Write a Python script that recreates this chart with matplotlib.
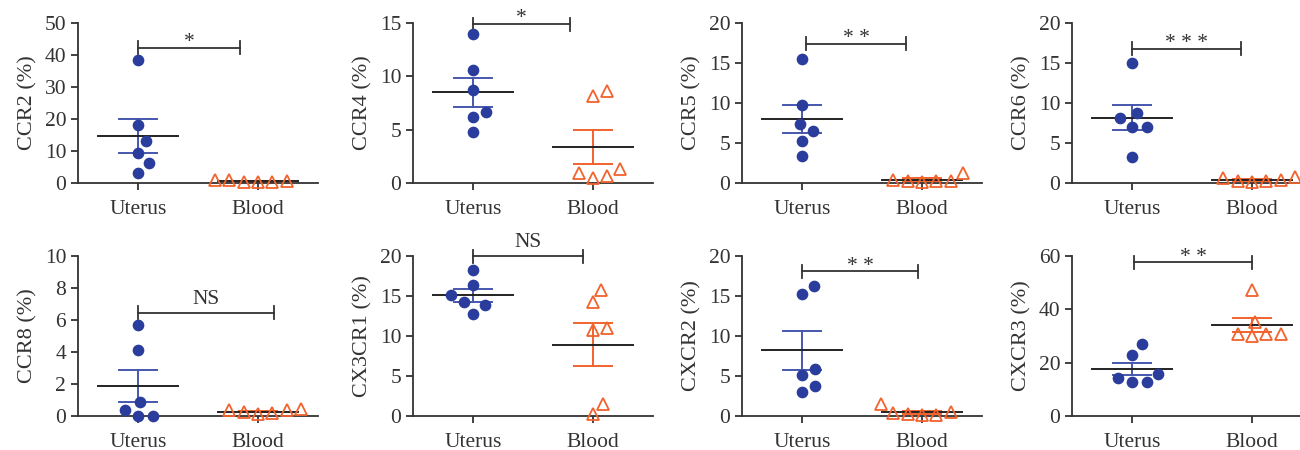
import numpy as np
import matplotlib
matplotlib.use("Agg")
import matplotlib.pyplot as plt

plt.rcParams['font.family'] = ['Liberation Serif', 'DejaVu Serif']

groups = ["Uterus", "Blood"]
receptors = ["CCR2", "CCR4", "CCR5", "CCR6", "CCR8", "CX3CR1", "CXCR2", "CXCR3"]
y_max = [50, 15, 20, 20, 10, 20, 20, 60]
y_step = [10, 5, 5, 5, 2, 5, 5, 20]

# percent positive cells, six donors per group
uterus = [
    [38.5, 18.0, 13.0, 9.3, 6.3, 3.2],
    [14.0, 10.6, 8.7, 6.7, 6.2, 4.8],
    [15.5, 9.8, 7.4, 6.5, 5.25, 3.4],
    [15.0, 8.7, 8.1, 7.0, 7.0, 3.2],
    [5.7, 4.15, 0.9, 0.35, 0.0, 0.0],
    [18.3, 16.4, 15.1, 14.2, 13.9, 12.8],
    [16.3, 15.2, 5.9, 5.1, 3.8, 3.0],
    [26.9, 23.0, 15.9, 14.4, 12.75, 12.75],
]
blood = [
    [0.8, 0.3, 0.3, 0.2, 0.6, 0.8],
    [8.6, 8.2, 0.9, 0.5, 0.7, 1.3],
    [0.4, 0.2, 0.1, 0.2, 0.2, 1.3],
    [0.4, 0.3, 0.1, 0.2, 0.6, 0.7],
    [0.35, 0.25, 0.17, 0.12, 0.35, 0.42],
    [15.7, 14.2, 11.0, 10.8, 1.5, 0.2],
    [0.5, 0.17, 0.08, 0.3, 0.37, 1.45],
    [47.1, 35.25, 30.9, 29.9, 30.9, 30.9],
]
signif = ["*", "*", "* *", "* * *", "NS", "NS", "* *", "* *"]
bracket_y = [42.2, 14.9, 17.4, 16.8, 6.46, 20.0, 18.1, 57.6]
bracket_x = [(0, 0.85), (0, 0.81), (0.03, 0.87), (0, 0.91),
             (0, 1.13), (0, 0.92), (0, 0.97), (0.02, 1.0)]

BLUE = "#2b3d9c"
BLUE_BAR = "#4657ad"
ORANGE = "#f2622c"
DARK = "#333333"

PX_X = 120.0   # pixels per x unit
PX_H = 160.0   # axis height in pixels


def swarm(values, px_y, d=14.5):
    # simple beeswarm: each point takes the free slot nearest the centre
    order = np.argsort(values)
    ys = np.asarray(values, float) * px_y
    xs = np.zeros(len(values))
    placed = []
    for i in order:
        cands = [0.0]
        for j in placed:
            dy = abs(ys[i] - ys[j])
            if dy < d:
                dx = np.sqrt(d * d - dy * dy)
                cands += [xs[j] + dx, xs[j] - dx]
        cands.sort(key=lambda c: (round(abs(c), 3), -c))
        for c in cands:
            if all((c - xs[j]) ** 2 + (ys[i] - ys[j]) ** 2 >= d * d - 1e-6 for j in placed):
                xs[i] = c
                break
        placed.append(i)
    return xs / PX_X


fig = plt.figure(figsize=(13, 4.5), dpi=100)
lefts = [78, 413, 742, 1072]
bottoms = [183, 416]

for k, name in enumerate(receptors):
    row, col = divmod(k, 4)
    ax = fig.add_axes([lefts[col] / 1300, 1 - bottoms[row] / 450, 240 / 1300, PX_H / 450])
    px_y = PX_H / y_max[k]

    for g, (vals, color, barc) in enumerate([(uterus[k], BLUE, BLUE_BAR), (blood[k], ORANGE, ORANGE)]):
        vals = np.array(vals)
        m = vals.mean()
        sem = vals.std(ddof=1) / np.sqrt(len(vals))
        ax.plot([g, g], [m - sem, m + sem], color=barc, lw=1.4, zorder=2, clip_on=False)
        for v in (m - sem, m + sem):
            ax.plot([g - 0.16, g + 0.16], [v, v], color=barc, lw=1.4, zorder=2, clip_on=False)
        ax.plot([g - 0.33, g + 0.33], [m, m], color="#222222", lw=1.4, zorder=2, clip_on=False)
        xs = g + swarm(vals, px_y)
        if g == 0:
            ax.plot(xs, vals, "o", ms=7.4, color=color, mec=color, zorder=3, clip_on=False)
        else:
            ax.plot(xs, vals, "^", ms=8.2, mfc="none", mec=color, mew=1.3, zorder=3, clip_on=False)

    # significance bracket
    x0, x1 = bracket_x[k]
    yb = bracket_y[k]
    cap = 6.5 / px_y
    ax.plot([x0, x1], [yb, yb], color=DARK, lw=1.3, clip_on=False)
    for xc in (x0, x1):
        ax.plot([xc, xc], [yb - cap, yb + cap], color=DARK, lw=1.3, clip_on=False)
    off = 6.5 if signif[k] == "NS" else 0.5
    ax.annotate(signif[k], ((x0 + x1) / 2, yb), xytext=(0, off), textcoords="offset points",
                ha="center", va="baseline", fontsize=15.5, color=DARK, annotation_clip=False)

    ax.set_xlim(-0.5, 1.5)
    ax.set_ylim(0, y_max[k])
    ax.set_yticks(np.arange(0, y_max[k] + 0.1, y_step[k]))
    ax.set_xticks([0, 1])
    ax.set_xticklabels(groups)
    ax.set_ylabel(f"{name} (%)", fontsize=16, color=DARK, labelpad=5)
    for s in ("top", "right"):
        ax.spines[s].set_visible(False)
    for s in ("left", "bottom"):
        ax.spines[s].set_color(DARK)
        ax.spines[s].set_linewidth(1.3)
    ax.tick_params(axis="both", length=5, width=1.3, color=DARK, labelcolor=DARK, labelsize=15.5)
    ax.tick_params(axis="x", pad=7)

fig.savefig("out.png", dpi=100)
